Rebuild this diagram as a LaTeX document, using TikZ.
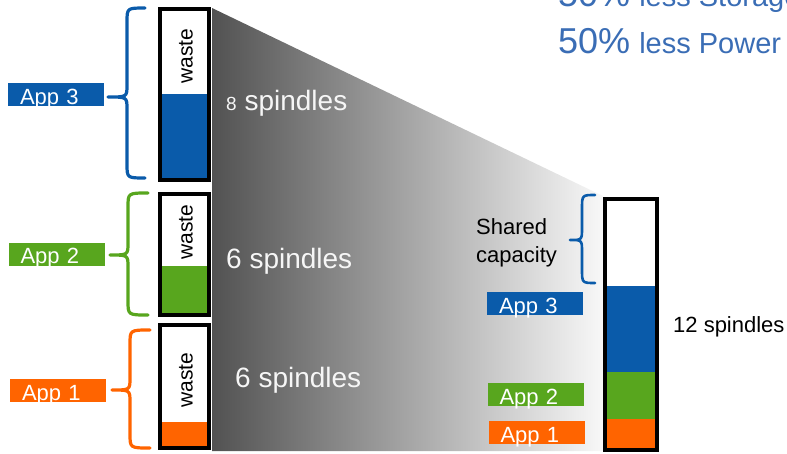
\documentclass[tikz,border=0pt]{standalone}
\usepackage{fontspec}
\setmainfont{Liberation Sans}
\definecolor{appblue}{HTML}{0A5BAA}
\definecolor{appgreen}{HTML}{58A61E}
\definecolor{apporange}{HTML}{FF6400}
\definecolor{titleblue}{HTML}{3A6DB5}
\definecolor{shdark}{HTML}{525252}
\definecolor{shlight}{HTML}{F8F8F8}
\newcommand\mybrc[7]{%
  \draw[#1] (#2,#5) .. controls (#3,#5) and (#3,#5) .. (#3,#5+14)
    -- (#3,#6-12) .. controls (#3,#6) and (#3,#6) .. (#4,#6)
    .. controls (#3,#6) and (#3,#6) .. (#3,#6+12)
    -- (#3,#7-14) .. controls (#3,#7) and (#3,#7) .. (#2,#7);}
\tikzset{
  lbl/.style={fill=#1, text=white, minimum width=96pt, minimum height=23pt,
    inner ysep=0pt, inner xsep=12pt, text width=72pt, align=left,
    text height=19pt, text depth=0pt,
    font=\fontsize{22}{24}\selectfont},
  wastetxt/.style={rotate=90, inner sep=0pt, font=\fontsize{21}{24}\selectfont},
  spintxt/.style={anchor=base west, inner sep=0pt, text=white!93!gray,
    font=\fontsize{28}{30}\selectfont},
  barframe/.style={draw=black, line width=4.5pt},
  brc/.style={draw=#1, line width=3.2pt, line cap=round, line join=round},
}
\begin{document}
\begin{tikzpicture}[x=1pt,y=-1pt]
\useasboundingbox (0,0) rectangle (787,453);
% gradient funnel
\shade[left color=shdark, right color=shlight]
  (212,8) -- (603,196) -- (603,451) -- (212,451) -- cycle;
% left bars
\fill[white] (160,9) rectangle (209,180);
\fill[appblue] (160,94) rectangle (209,180);
\draw[barframe] (160,9) rectangle (209,180);
\fill[white] (160,194) rectangle (209,315);
\fill[appgreen] (160,266) rectangle (209,315);
\draw[barframe] (160,194) rectangle (209,315);
\fill[white] (160,325) rectangle (209,448);
\fill[apporange] (160,422) rectangle (209,448);
\draw[barframe] (160,325) rectangle (209,448);
\node[wastetxt] (w3) at (186,56) {waste};
\node[wastetxt] (w2) at (186,232) {waste};
\node[wastetxt] (w1) at (186,380) {waste};
% right bar
\fill[white] (605,199) rectangle (657,450);
\fill[appblue] (605,286) rectangle (657,372);
\fill[appgreen] (605,372) rectangle (657,419);
\fill[apporange] (605,419) rectangle (657,450);
\draw[barframe] (605,199) rectangle (657,450);
% braces
\mybrc{brc=appblue}{145}{127}{108}{8}{97}{178}
\mybrc{brc=appgreen}{148}{128}{110}{193}{255}{315}
\mybrc{brc=apporange}{150}{130}{112}{330}{390}{448}
\mybrc{brc=appblue, line width=2.6pt}{595}{582}{570}{195}{240}{283}
% left labels
\node[lbl=appblue] (l3) at (56,94.5) {App 3};
\node[lbl=appgreen] (l2) at (56.5,254) {App 2};
\node[lbl=apporange] (l1) at (58,390.5) {App 1};
% right labels
\node[lbl=appblue] (r3) at (535,303.5) {App 3};
\node[lbl=appgreen] (r2) at (535.5,394.5) {App 2};
\node[lbl=apporange] (r1) at (536.5,432.5) {App 1};
% spindle texts
\node[spintxt] (s8) at (226,110) {{\fontsize{19}{20}\selectfont 8} spindles};
\node[spintxt] (s6a) at (226,268) {6 spindles};
\node[spintxt] (s6b) at (235,387) {6 spindles};
\node[anchor=base west, inner sep=0pt, font=\fontsize{22}{24}\selectfont] (s12) at (673,332) {12 spindles};
\node[anchor=west, inner sep=0pt, align=left, font=\fontsize{22}{28}\selectfont] (sc) at (476,243) {Shared\\capacity};
% title
\node[anchor=base west, inner sep=0pt, text=titleblue] (t1) at (558,6)
  {{\fontsize{36}{38}\selectfont 50\%}\hspace{9pt}{\fontsize{29}{30}\selectfont less Storage}};
\node[anchor=base west, inner sep=0pt, text=titleblue] (t2) at (558,53)
  {{\fontsize{36}{38}\selectfont 50\%}\hspace{9pt}{\fontsize{29}{30}\selectfont less Power}};
\end{tikzpicture}
\end{document}
